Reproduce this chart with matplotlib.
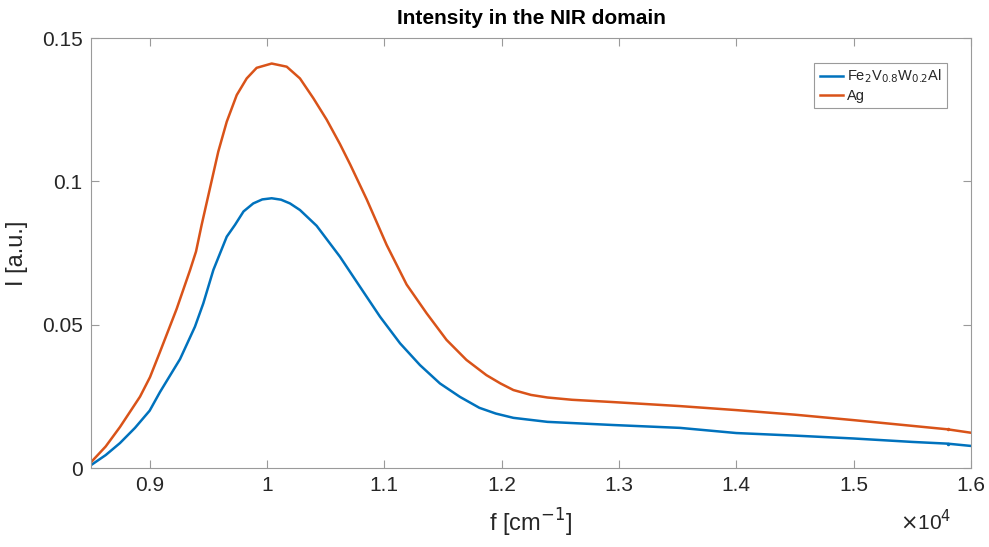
import matplotlib
matplotlib.use("Agg")
import matplotlib.pyplot as plt

plt.rcParams['font.family'] = ['Liberation Sans', 'DejaVu Sans']

# wavenumber in units of 1e4 cm^-1
f_ag = [0.85, 0.8625, 0.8747, 0.8918, 0.9003, 0.9088, 0.923, 0.9344, 0.9395, 0.9443,
        0.9514, 0.9585, 0.9657, 0.9742, 0.9827, 0.9912, 1.004, 1.0168, 1.0281, 1.0395,
        1.0509, 1.0622, 1.071, 1.085, 1.102, 1.119, 1.136, 1.153, 1.170, 1.187,
        1.199, 1.21, 1.225, 1.239, 1.26, 1.295, 1.352, 1.40, 1.45, 1.5,
        1.55, 1.58, 1.6]
I_ag = [0.002, 0.0075, 0.0143, 0.0249, 0.0317, 0.0405, 0.0555, 0.0690, 0.0755, 0.0848,
        0.0976, 0.1104, 0.1208, 0.1301, 0.1359, 0.1396, 0.1411, 0.1400, 0.1359, 0.1290,
        0.1215, 0.1130, 0.1058, 0.0937, 0.0778, 0.0640, 0.0540, 0.0447, 0.0377, 0.0324,
        0.0295, 0.0272, 0.0255, 0.0246, 0.0238, 0.0230, 0.0216, 0.0202, 0.0186, 0.0167,
        0.0147, 0.0135, 0.0123]

f_fe = [0.85, 0.8625, 0.8747, 0.8875, 0.90, 0.9088, 0.9259, 0.9386, 0.9457, 0.9543,
        0.9657, 0.9727, 0.98, 0.9883, 0.996, 1.004, 1.012, 1.0196, 1.0281, 1.0423,
        1.0622, 1.0793, 1.0963, 1.1134, 1.1304, 1.1474, 1.1645, 1.181, 1.195, 1.21,
        1.239, 1.295, 1.352, 1.40, 1.45, 1.5, 1.55, 1.58, 1.6]
I_fe = [0.001, 0.0045, 0.0087, 0.0140, 0.0200, 0.0265, 0.0380, 0.0493, 0.0574, 0.0691,
        0.0807, 0.0848, 0.0895, 0.0923, 0.0937, 0.0941, 0.0936, 0.0923, 0.0900, 0.0845,
        0.0737, 0.0632, 0.0528, 0.0435, 0.0359, 0.0295, 0.0248, 0.0210, 0.0190, 0.0175,
        0.0161, 0.0150, 0.0140, 0.0122, 0.0113, 0.0103, 0.0091, 0.0085, 0.0077]

xticks = [0.9, 1.0, 1.1, 1.2, 1.3, 1.4, 1.5, 1.6]
xticklabels = ['0.9', '1', '1.1', '1.2', '1.3', '1.4', '1.5', '1.6']
yticks = [0, 0.05, 0.1, 0.15]
yticklabels = ['0', '0.05', '0.1', '0.15']

fig = plt.figure(figsize=(9.89, 5.47), dpi=100)
ax = fig.add_axes([0.092, 0.1444, 0.8898, 0.7861])

blue = '#0072BD'
orange = '#D95319'
ax.plot(f_fe, I_fe, color=blue, lw=1.8, label=r'Fe$_2$V$_{0.8}$W$_{0.2}$Al',
        solid_joinstyle='round')
ax.plot(f_ag, I_ag, color=orange, lw=1.8, label='Ag', solid_joinstyle='round')
# small dots visible near 1.58e4 on both curves
ax.plot([f_fe[-2]], [I_fe[-2]], '.', color=blue, ms=3)
ax.plot([f_ag[-2]], [I_ag[-2]], '.', color=orange, ms=3)

ax.set_xlim(0.85, 1.6)
ax.set_ylim(0, 0.15)
ax.set_xticks(xticks)
ax.set_xticklabels(xticklabels)
ax.set_yticks(yticks)
ax.set_yticklabels(yticklabels)

axcol = '#262626'
for s in ax.spines.values():
    s.set_color('#9a9a9a')
    s.set_linewidth(0.8)
ax.tick_params(direction='in', length=6, width=0.8, color='#9a9a9a',
               labelsize=15, labelcolor=axcol, top=True, right=True, pad=6)

ax.set_title('Intensity in the NIR domain', fontsize=15, fontweight='bold', color='black', pad=10)
ax.set_xlabel(r'f [cm$^{-1}$]', fontsize=17, color=axcol, labelpad=8)
ax.set_ylabel('I [a.u.]', fontsize=17, color=axcol, labelpad=10)
ax.text(0.978, -0.124, r'$\times$10$^4$', transform=ax.transAxes, ha='right', va='center',
        fontsize=15, color=axcol)

leg = ax.legend(handles=ax.get_lines()[:2], loc='upper right', bbox_to_anchor=(0.973, 0.943),
                fontsize=10.5, handlelength=1.6, handletextpad=0.3, borderpad=0.35,
                labelspacing=0.25, fancybox=False, framealpha=1, edgecolor='#9a9a9a',
                borderaxespad=0)
leg.get_frame().set_linewidth(0.8)
for t in leg.get_texts():
    t.set_color(axcol)

fig.savefig('out.png', dpi=100, facecolor='white')
